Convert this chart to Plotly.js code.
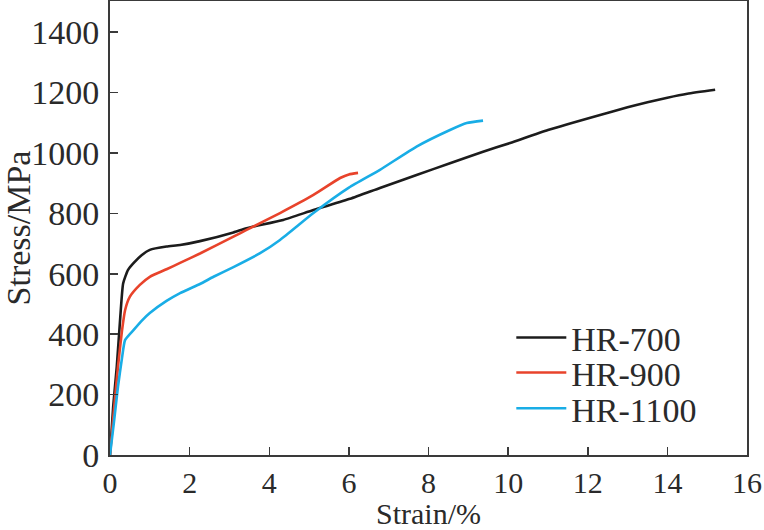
<!DOCTYPE html>
<html>
<head>
<meta charset="utf-8">
<script src="https://cdn.plot.ly/plotly-3.0.1.min.js"></script>
<style>
  html, body { margin: 0; padding: 0; background: #fff; }
  #chart { width: 764px; height: 530px; }
</style>
</head>
<body>
<div id="chart"></div>
<script>
// Stress-strain curves
const hr700Strain = [0, 0.08, 0.17, 0.26, 0.33, 0.45, 0.59, 0.8, 1.0, 1.42, 1.76, 2.26, 3.1, 3.43, 4.35, 5.11, 6.03, 6.78, 7.7, 8.54, 9.37, 10.05, 11.0, 12.31, 13.0, 13.5, 14.0, 14.5, 15.2];
const hr700Stress = [0, 160, 292, 460, 568, 612, 635, 662, 679, 690, 695, 708, 737, 751, 778, 811, 848, 884, 927, 966, 1004, 1033, 1076, 1126, 1151, 1168, 1183, 1196, 1209];

const hr900Strain = [0, 0.1, 0.2, 0.3, 0.38, 0.5, 0.75, 1.0, 1.42, 1.76, 2.26, 3.1, 3.43, 4.27, 5.11, 5.78, 6.0, 6.23];
const hr900Stress = [0, 150, 292, 410, 480, 524, 563, 590, 615, 636, 667, 723, 745, 801, 861, 917, 929, 934];

const hr1100Strain = [0, 0.1, 0.2, 0.3, 0.38, 0.6, 0.8, 1.0, 1.42, 1.76, 2.26, 2.6, 3.1, 3.77, 4.27, 5.11, 6.0, 6.78, 7.7, 8.54, 8.96, 9.37];
const hr1100Stress = [0, 110, 226, 320, 381, 415, 445, 470, 510, 536, 566, 590, 622, 668, 712, 801, 885, 944, 1021, 1076, 1099, 1107];

const seriesNames = ['HR-700', 'HR-900', 'HR-1100'];
const seriesColors = ['#1c1c1c', '#e8432b', '#19ade6'];
const legendIds = ['legend', 'legend2', 'legend3'];

const xTicks = [0, 2, 4, 6, 8, 10, 12, 14, 16];
const yTicks = [0, 200, 400, 600, 800, 1000, 1200, 1400];

const fontFamily = '"Liberation Serif", "Times New Roman", serif';
const textSize = 34;
const textColor = '#2a2a2a';

function makeTrace(x, y, i) {
    return {
        x: x,
        y: y,
        type: 'scatter',
        mode: 'lines',
        name: seriesNames[i],
        legend: legendIds[i],
        line: { color: seriesColors[i], width: 2.6, shape: 'spline', smoothing: 0.5 },
        hoverinfo: 'skip'
    };
}

const traces = [
    makeTrace(hr700Strain, hr700Stress, 0),
    makeTrace(hr900Strain, hr900Stress, 1),
    makeTrace(hr1100Strain, hr1100Stress, 2)
];

// one legend per series so the rows can sit as tight as in the figure
function makeLegend(yPos) {
    return {
        x: 0.63, y: yPos,
        xanchor: 'left', yanchor: 'middle',
        bgcolor: 'rgba(0,0,0,0)',
        font: { family: fontFamily, size: textSize, color: textColor },
        itemwidth: 50
    };
}

const axisCommon = {
    showgrid: false,
    zeroline: false,
    showline: true,
    linecolor: '#3a3a3a',
    linewidth: 2,
    mirror: true,
    ticks: 'inside',
    ticklen: 8,
    tickwidth: 1.5,
    tickcolor: '#3a3a3a'
};

const layout = {
    width: 764,
    height: 530,
    paper_bgcolor: '#ffffff',
    plot_bgcolor: '#ffffff',
    font: { family: fontFamily, color: textColor },
    margin: { l: 110, r: 17, t: 1, b: 75 },
    showlegend: true,
    legend: makeLegend(0.258),
    legend2: makeLegend(0.181),
    legend3: makeLegend(0.102),
    xaxis: Object.assign({}, axisCommon, {
        range: [0, 16],
        tickvals: xTicks,
        ticklabelstandoff: 0,
        tickfont: { family: fontFamily, size: 30, color: textColor },
        title: { text: 'Strain/%', font: { family: fontFamily, size: 30, color: textColor }, standoff: 8 }
    }),
    yaxis: Object.assign({}, axisCommon, {
        range: [0, 1503],
        tickvals: yTicks,
        ticklabelstandoff: 2,
        tickfont: { family: fontFamily, size: textSize, color: textColor },
        title: { text: 'Stress/MPa', font: { family: fontFamily, size: textSize, color: textColor }, standoff: 0 }
    })
};

Plotly.newPlot('chart', traces, layout, { displayModeBar: false, staticPlot: true });
</script>
</body>
</html>
